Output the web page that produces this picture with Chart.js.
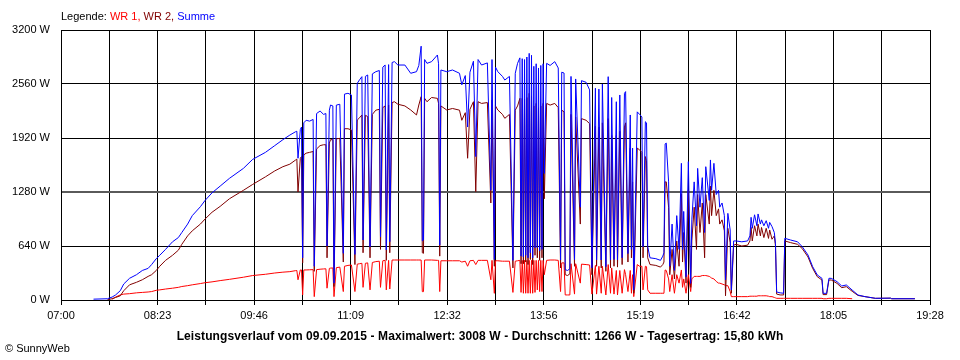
<!DOCTYPE html>
<html>
<head>
<meta charset="utf-8">
<script src="https://cdn.jsdelivr.net/npm/chart.js@4.4.1/dist/chart.umd.min.js"></script>
<style>
  html, body { margin: 0; padding: 0; background: #fff; }
  #wrap { position: relative; width: 960px; height: 360px; font-family: "Liberation Sans", Arial, sans-serif; font-size: 11px; color: #000; }
  #wrap canvas { position: absolute; left: 0; top: 0; }
  .txt { position: absolute; white-space: nowrap; line-height: 13px; }
  #legend { left: 61px; top: 10px; }
  #title { left: 0; width: 960px; text-align: center; top: 330px; font-weight: bold; font-size: 12px; letter-spacing: 0.1px; }
  #copy { left: 5px; top: 342px; }
</style>
</head>
<body>
<div id="wrap">
  <canvas id="chart" width="960" height="360"></canvas>
  <div id="legend" class="txt">Legende: <span style="color:#ff0000">WR 1,</span> <span style="color:#800000">WR 2,</span> <span style="color:#0000ff">Summe</span></div>
  <div id="title" class="txt">Leistungsverlauf vom 09.09.2015 - Maximalwert: 3008 W - Durchschnitt: 1266 W - Tagesertrag: 15,80 kWh</div>
  <div id="copy" class="txt">© SunnyWeb</div>
</div>
<script>
// x axis labels (every second grid line gets one)
const xTickLabels = ['07:00', '08:23', '09:46', '11:09', '12:32', '13:56', '15:19', '16:42', '18:05', '19:28'];
const yTickStep = 640;

// sample times
const times = [
  '07:28','07:40','07:44','07:47','07:51','07:54','07:59','08:05','08:10','08:15',
  '08:18','08:22','08:25','08:30','08:36','08:41','08:44','08:49','08:53','09:00',
  '09:04','09:10','09:17','09:25','09:37','09:45','09:56','10:04','10:11','10:17',
  '10:22','10:23','10:24','10:26','10:27','10:28','10:29','10:31','10:34','10:37',
  '10:38','10:40','10:43','10:46','10:48','10:49','10:51','10:52','10:54','10:55',
  '10:57','11:00','11:03','11:04','11:07','11:10','11:13','11:15','11:17','11:19',
  '11:20','11:22','11:24','11:26','11:28','11:31','11:34','11:35','11:37','11:39',
  '11:40','11:42','11:43','11:45','11:47','11:50','11:56','12:01','12:06','12:08',
  '12:10','12:11','12:12','12:13','12:15','12:19','12:24','12:25','12:26','12:27',
  '12:32','12:37','12:43','12:45','12:48','12:50','12:52','12:55','12:57','12:59',
  '13:02','13:07','13:10','13:11','13:13','13:14','13:16','13:20','13:22','13:26',
  '13:29','13:31','13:33','13:35','13:36','13:37','13:38','13:39','13:40','13:41',
  '13:42','13:43','13:44','13:45','13:46','13:47','13:48','13:49','13:50','13:51',
  '13:52','13:53','13:54','13:55','13:56','13:58','14:01','14:05','14:08','14:10',
  '14:11','14:13','14:14','14:16','14:18','14:19','14:22','14:23','14:27','14:28',
  '14:32','14:35','14:37','14:40','14:41','14:43','14:45','14:46','14:49','14:51',
  '14:53','14:54','14:56','14:58','14:59','15:01','15:03','15:05','15:06','15:08',
  '15:10','15:11','15:12','15:13','15:16','15:18','15:20','15:21','15:23','15:24',
  '15:25','15:27','15:32','15:36','15:38','15:39','15:40','15:41','15:43','15:44',
  '15:46','15:48','15:50','15:52','15:54','15:55','15:56','15:58','16:00','16:02',
  '16:03','16:05','16:07','16:08','16:10','16:12','16:14','16:15','16:18','16:19',
  '16:20','16:22','16:24','16:26','16:27','16:29','16:31','16:32','16:34','16:36',
  '16:37','16:39','16:41','16:46','16:51','16:53','16:54','16:55','16:57','16:59',
  '17:00','17:02','17:03','17:05','17:07','17:09','17:10','17:12','17:14','17:15',
  '17:16','17:19','17:22','17:23','17:28','17:34','17:38','17:43','17:47','17:51',
  '17:55','17:56','17:59','18:01','18:03','18:08','18:12','18:16','18:21','18:26',
  '18:32','18:41','18:54','18:55','19:15'
];

// WR 1 in W
const wr1 = [
  null,null,10,35,60,70,75,85,90,95,
  100,115,120,130,140,150,160,170,180,195,
  205,215,230,245,270,290,305,320,330,336,
  348,350,240,356,356,60,356,356,358,360,
  40,360,365,368,370,140,375,378,380,40,
  383,390,100,400,410,415,100,425,430,435,
  150,435,440,120,445,455,460,150,465,470,
  120,470,130,474,474,474,474,474,474,474,
  474,99,99,474,474,474,470,470,100,465,
  465,465,465,450,460,400,465,470,420,470,
  470,470,240,470,79,465,465,460,460,460,
  90,460,465,470,90,470,80,470,80,470,
  80,470,80,470,80,470,90,470,120,470,
  100,470,100,470,300,470,474,474,470,100,
  440,440,60,60,60,430,70,430,200,425,
  420,415,70,410,70,400,80,400,60,420,
  80,380,70,350,60,350,80,360,300,100,
  350,80,300,40,420,400,400,120,400,395,
  120,80,80,80,80,80,356,350,250,100,
  300,80,300,200,356,150,250,80,300,100,
  250,280,280,280,280,290,290,290,280,270,
  260,250,220,200,200,190,180,170,170,100,
  40,40,40,40,40,45,45,45,45,45,
  50,50,50,50,50,45,40,40,30,25,
  20,20,20,20,20,20,20,20,20,20,
  20,15,15,20,20,20,20,20,15,null,
  null,null,null,null,null
];

// WR 2 in W
const wr2 = [
  null,5,15,30,50,110,180,210,240,280,
  300,350,400,470,530,590,660,760,820,900,
  960,1040,1110,1200,1300,1370,1460,1530,1580,1610,
  1660,1670,1280,1680,1700,440,1720,1740,1750,1760,
  340,1790,1830,1840,1840,500,1860,1900,1900,160,
  1910,1916,450,2030,2030,2015,420,2133,2160,2193,
  560,2190,2173,500,2200,2250,2260,600,2280,2300,
  470,2310,560,2340,2350,2320,2300,2252,2193,2311,
  2410,560,553,2390,2350,2400,2390,2330,520,2300,
  2252,2270,2250,2130,2220,1680,2260,2350,1284,2350,
  2330,2340,1150,2370,400,2300,2252,2200,2153,2200,
  380,2250,2300,2390,430,2390,430,2380,450,2400,
  420,2450,480,2420,420,2300,530,2330,500,2280,
  470,2300,500,2330,1200,2330,2310,2330,2280,380,
  2250,2230,300,290,310,2200,400,2170,900,2150,
  2130,2090,300,2060,400,2050,380,2100,340,2150,
  380,1950,400,1950,390,2000,420,2050,2100,450,
  1800,500,1400,80,1800,1780,1750,500,1700,1650,
  500,420,410,390,420,450,1400,1400,1100,300,
  600,250,700,400,1260,450,800,200,1300,150,
  700,1100,600,1250,800,1150,500,1250,900,1350,
  1000,1300,1000,1080,900,950,820,50,850,680,
  80,650,660,640,650,700,860,700,880,760,
  900,760,860,740,850,730,830,720,760,640,
  70,60,60,700,680,660,610,510,375,276,
  237,64,64,237,237,197,146,158,103,54,
  40,20,22,15,15
];

// Summe in W
const summe = [
  10,15,35,60,110,190,257,300,350,375,
  420,490,530,600,690,740,800,900,1000,1106,
  1180,1270,1350,1442,1560,1667,1750,1830,1900,1955,
  1995,2000,1680,2020,2050,500,2100,2130,2120,2140,
  400,2210,2240,2200,2210,640,2250,2311,2300,200,
  2310,2320,553,2440,2450,2430,540,2568,2610,2647,
  711,2650,2667,630,2680,2706,2720,750,2760,2785,
  593,2790,691,2815,2825,2785,2785,2687,2706,2780,
  3008,700,711,2850,2805,2825,2904,2800,652,2726,
  2706,2726,2687,2550,2660,2050,2700,2830,1700,2850,
  2785,2810,1300,2850,480,2760,2706,2650,2607,2650,
  470,2687,2805,2870,520,2860,510,2850,530,2880,
  500,2923,560,2900,500,2770,620,2800,620,2750,
  580,2780,600,2800,1500,2805,2780,2825,2750,474,
  2700,2690,360,350,370,2650,480,2620,1100,2600,
  2580,2490,380,2510,474,2500,474,2560,395,2647,
  474,2400,480,2350,474,2430,500,2450,2470,550,
  2193,600,1800,120,2230,2200,2170,630,2113,2100,
  632,500,490,470,520,560,1850,1860,1400,400,
  900,350,1000,600,1620,600,1050,275,1640,197,
  950,1400,880,1560,1100,1450,800,1580,1180,1660,
  1300,1620,1250,1300,1100,1150,1000,237,1027,830,
  118,700,700,690,700,760,980,850,1010,880,
  1020,900,950,880,940,850,920,870,800,670,
  95,85,80,731,711,690,632,533,395,296,
  257,79,79,257,257,217,166,178,118,59,
  40,20,22,15,15
];

function toMinutes(s) {
  const [h, m] = s.split(':').map(Number);
  return h * 60 + m;
}

function toPoints(values) {
  return times.map((t, i) => ({ x: toMinutes(t), y: values[i] }));
}

const xMin = toMinutes(xTickLabels[0]);
const xMax = toMinutes(xTickLabels[xTickLabels.length - 1]);
// grid lines at every half label step
const gridCount = (xTickLabels.length - 1) * 2;

Chart.defaults.font.family = '"Liberation Sans", Arial, sans-serif';
Chart.defaults.font.size = 11;
Chart.defaults.color = '#000';

new Chart(document.getElementById('chart'), {
  type: 'line',
  data: {
    datasets: [
      { label: 'Summe', data: toPoints(summe), borderColor: '#0000ff' },
      { label: 'WR 2', data: toPoints(wr2), borderColor: '#800000' },
      { label: 'WR 1', data: toPoints(wr1), borderColor: '#ff0000' }
    ]
  },
  options: {
    responsive: false,
    animation: false,
    spanGaps: false,
    elements: {
      point: { radius: 0 },
      line: { borderWidth: 1, tension: 0 }
    },
    layout: { padding: { left: 0, right: 30, top: 30, bottom: 0 } },
    plugins: {
      legend: { display: false },
      tooltip: { enabled: false }
    },
    scales: {
      x: {
        type: 'linear',
        min: xMin,
        max: xMax,
        afterBuildTicks: (scale) => {
          const ticks = [];
          for (let i = 0; i <= gridCount; i++) {
            ticks.push({ value: xMin + i * (xMax - xMin) / gridCount });
          }
          scale.ticks = ticks;
        },
        afterFit: (scale) => { scale.height = 60; },
        ticks: {
          autoSkip: false,
          maxRotation: 0,
          padding: 4,
          callback: (value, index) => (index % 2 ? '' : xTickLabels[index / 2])
        },
        grid: { color: '#000', tickLength: 5 },
        border: { color: '#000' }
      },
      y: {
        min: 0,
        max: 3200,
        afterFit: (scale) => { scale.width = 61; },
        ticks: {
          stepSize: yTickStep,
          padding: 11,
          callback: (value) => value + ' W'
        },
        grid: {
          drawTicks: false,
          color: (ctx) => (ctx.tick && ctx.tick.value === 1280 ? '#5a5a5a' : '#000'),
          lineWidth: (ctx) => (ctx.tick && ctx.tick.value === 1280 ? 2 : 1)
        },
        border: { color: '#000' }
      }
    }
  }
});
</script>
</body>
</html>
